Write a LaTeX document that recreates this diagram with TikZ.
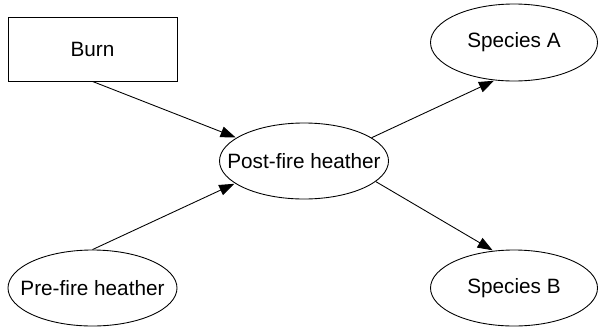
\documentclass[tikz,border=0pt]{standalone}
\usepackage{fontspec}
\setmainfont{Liberation Sans}
\usetikzlibrary{shapes.geometric}
\usetikzlibrary{arrows.meta}

\tikzset{
  box/.style={draw, rectangle, minimum width=3.38cm, minimum height=1.28cm, inner sep=0pt},
  oval/.style={draw, ellipse, minimum width=3.38cm, minimum height=1.52cm, inner sep=0pt},
  link/.style={-{Triangle[length=3mm,width=2.2mm]}, shorten >=0.5pt},
}

\begin{document}
\begin{tikzpicture}[line width=0.5pt, font=\fontsize{11.8}{14}\selectfont]
                      \useasboundingbox (0,0) rectangle (11.96,6.54);
                      % nodes
                      \node[box] (burn) at (1.85,5.56) {Burn};
                      \node[oval] (post) at (6.08,3.32) {\makebox[0pt]{Post-fire heather}};
                      \node[oval] (pre) at (1.85,0.78) {\makebox[0pt]{Pre-fire heather}};
                      \node[oval, minimum width=3.34cm, minimum height=1.54cm] (spa) at (10.28,5.69) {\makebox[0pt]{Species A}};
                      \node[oval, minimum width=3.34cm] (spb) at (10.28,0.78) {\makebox[0pt]{Species B}};
                      % arrows
                      \draw[link] (burn.south) -- (post.161);
                      \draw[link] (pre.north) -- (post.198);
                      \draw[link] (post.19) -- (spa.243);
                      \draw[link] (post.344) -- (spb.119);
                  \end{tikzpicture}
\end{document}
